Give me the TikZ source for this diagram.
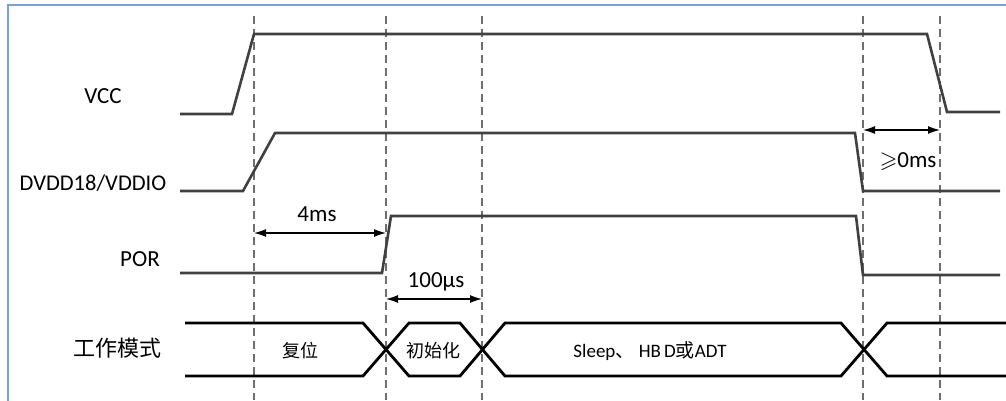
\documentclass[tikz,border=0pt]{standalone}
\usepackage{amssymb}
\usepackage{fontspec}
\setmainfont{Carlito}
\newfontfamily\cjk{Noto Sans CJK SC}
\usetikzlibrary{arrows.meta}
\definecolor{frameblue}{RGB}{122, 160, 214}
\definecolor{wavegray}{RGB}{64, 64, 64}
\definecolor{guidegray}{RGB}{110, 110, 110}

\begin{document}
\begin{tikzpicture}[x=1pt, y=-1pt,
        wave/.style={line width=2.6pt, wavegray},
        bus/.style={line width=2.8pt, black},
        guide/.style={guidegray, line width=1.2pt, dash pattern=on 8pt off 5pt},
        dim/.style={{Latex[length=12pt, width=8pt]}-{Latex[length=12pt, width=8pt]}, line width=1.3pt},
        sig/.style={font=\fontsize{23}{27}\selectfont, anchor=base, inner sep=0pt},
        state/.style={font=\fontsize{18}{22}\selectfont\cjk, inner sep=0pt}
    ]
        \useasboundingbox (0,0) rectangle (1006,401);
        \draw[frameblue, line width=2pt] (8,401) -- (8,5.5) -- (1006,5.5);

        \foreach \x/\n in {254/t0, 386/t1, 482/t2, 863/t3, 940/t4} {
            \coordinate (\n) at (\x,16);
            \draw[guide] (\n) -- (\x,400);
        }

        \node[sig] (vcc) at (103,104) {VCC};
        \node[sig, font=\fontsize{22.5}{27}\selectfont] (dvdd) at (93,190) {DVDD18/VDDIO};
        \node[sig] (por) at (140,266) {POR};
        \node[font=\fontsize{22}{26}\selectfont\cjk, inner sep=0pt] (mode) at (117,348) {工作模式};

        \draw[wave] (180,114) -- (232,114) -- (254,34) -- (927,34) -- (947,112) -- (1000,112);
        \draw[wave] (180,191) -- (243,191) -- (275,133) -- (855,133) -- (863,191) -- (1000,191);
        \draw[wave] (180,273) -- (382,273) -- (391,216) -- (856,216) -- (863,275) -- (1000,275);

        \draw[bus] (185,323) -- (363,323) -- (409,376) -- (460,376) -- (505,323) -- (841,323) -- (887,376) -- (1006,376);
        \draw[bus] (185,376) -- (363,376) -- (409,323) -- (460,323) -- (505,376) -- (841,376) -- (887,323) -- (1006,323);

        \node[state] (reset) at (300,351) {复位};
        \node[state] (init) at (433,351) {初始化};
        \node[font=\fontsize{19}{23}\selectfont, anchor=base, inner sep=0pt] (run) at (650,357) {Sleep{\cjk 、} HB\,D{\cjk 或}ADT};

        \draw[dim] (t0 |- 0,233) -- (t1 |- 0,233);
        \node[sig] (t4ms) at (317,221) {4ms};
        \draw[dim] (t1 |- 0,299) -- (t2 |- 0,299);
        \node[sig] (t100us) at (436,287) {100µs};
        \draw[dim] (t3 |- 0,130) -- (t4 |- 0,130);
        \node[sig] (t0ms) at (908,167) {$\geqslant$0ms};
    \end{tikzpicture}
\end{document}
